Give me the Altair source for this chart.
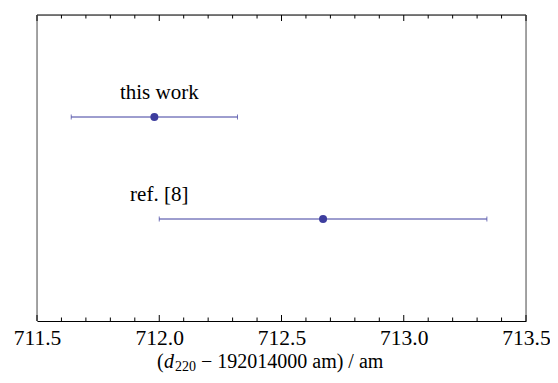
import altair as alt
import pandas as pd

# data
labels = ["this work", "ref. [8]"]
values = [711.98, 712.67]
errors = [0.34, 0.67]
rows = [2, 1]
label_x = [712.0, 712.0]

major_ticks = [711.5, 712.0, 712.5, 713.0, 713.5]
minor_ticks = [711.6, 711.7, 711.8, 711.9, 712.1, 712.2, 712.3, 712.4,
               712.6, 712.7, 712.8, 712.9, 713.1, 713.2, 713.3, 713.4]

df = pd.DataFrame({
    "label": labels,
    "value": values,
    "lo": [v - e for v, e in zip(values, errors)],
    "hi": [v + e for v, e in zip(values, errors)],
    "row": rows,
    "lx": label_x,
})

W, H = 489, 306
FONT = "Liberation Serif, Times New Roman, DejaVu Serif, serif"
COL = "#3d3d9e"

xscale = alt.Scale(domain=[711.5, 713.5], nice=False, zero=False)
yscale = alt.Scale(domain=[0, 3], nice=False, zero=False)

base = alt.Chart(df)

bars = base.mark_rule(color=COL, strokeWidth=1).encode(
    x=alt.X("lo:Q", scale=xscale,
            axis=alt.Axis(values=major_ticks, format=".1f", ticks=False, domain=True,
                          domainColor="black", domainWidth=1.2, grid=False,
                          labelFont=FONT, labelFontSize=21.5, labelColor="black",
                          labelPadding=6, title=None, labelFlush=False)),
    x2="hi:Q",
    y=alt.Y("row:Q", scale=yscale, axis=None),
)
caps_lo = base.mark_tick(color=COL, orient="vertical", size=5, thickness=1).encode(
    x=alt.X("lo:Q", scale=xscale), y=alt.Y("row:Q", scale=yscale))
caps_hi = base.mark_tick(color=COL, orient="vertical", size=5, thickness=1).encode(
    x=alt.X("hi:Q", scale=xscale), y=alt.Y("row:Q", scale=yscale))
points = base.mark_circle(color=COL, size=64, opacity=1).encode(
    x=alt.X("value:Q", scale=xscale), y=alt.Y("row:Q", scale=yscale))
texts = base.mark_text(font=FONT, fontSize=21, color="black", dy=-18,
                       baseline="alphabetic", align="center").encode(
    x=alt.X("lx:Q", scale=xscale), y=alt.Y("row:Q", scale=yscale), text="label:N")

one = alt.Data(values=[{"a": 1}])
frame_top = alt.Chart(one).mark_rule(color="black", strokeWidth=1.2).encode(
    x=alt.value(0), x2=alt.value(W), y=alt.value(0))
frame_left = alt.Chart(one).mark_rule(color="#888888", strokeWidth=1.5).encode(
    x=alt.value(0), y=alt.value(0), y2=alt.value(H))
frame_right = alt.Chart(one).mark_rule(color="#888888", strokeWidth=1.5).encode(
    x=alt.value(W), y=alt.value(0), y2=alt.value(H))

tmaj = pd.DataFrame({"t": major_ticks})
tmin = pd.DataFrame({"t": minor_ticks})
maj_bot = alt.Chart(tmaj).mark_rule(color="black").encode(
    x=alt.X("t:Q", scale=xscale), y=alt.value(H), y2=alt.value(H - 6))
maj_top = alt.Chart(tmaj).mark_rule(color="black").encode(
    x=alt.X("t:Q", scale=xscale), y=alt.value(0), y2=alt.value(6))
min_bot = alt.Chart(tmin).mark_rule(color="black").encode(
    x=alt.X("t:Q", scale=xscale), y=alt.value(H), y2=alt.value(H - 3.5))
min_top = alt.Chart(tmin).mark_rule(color="black").encode(
    x=alt.X("t:Q", scale=xscale), y=alt.value(0), y2=alt.value(3.5))

# composed axis title: (d_220 − 192014000 am) / am
TY = 353
t0 = 120
title_parts = [
    alt.Chart(one).mark_text(text="(", font=FONT, fontSize=20, align="left",
                             baseline="alphabetic", color="black").encode(
        x=alt.value(t0), y=alt.value(TY)),
    alt.Chart(one).mark_text(text="d", font=FONT, fontSize=20, fontStyle="italic",
                             align="left", baseline="alphabetic", color="black").encode(
        x=alt.value(t0 + 7), y=alt.value(TY)),
    alt.Chart(one).mark_text(text="220", font=FONT, fontSize=14, align="left",
                             baseline="alphabetic", color="black").encode(
        x=alt.value(t0 + 18), y=alt.value(TY + 3)),
    alt.Chart(one).mark_text(text="\u2212 192014000 am) / am", font=FONT, fontSize=20,
                             align="left", baseline="alphabetic", color="black").encode(
        x=alt.value(t0 + 44), y=alt.value(TY)),
]

chart = alt.layer(
    bars, caps_lo, caps_hi, points, texts,
    frame_top, frame_left, frame_right,
    maj_bot, maj_top, min_bot, min_top,
    *title_parts,
).properties(
    width=W, height=H,
    autosize=alt.AutoSizeParams(type="none"),
    padding={"left": 29, "top": 7, "right": 24, "bottom": 54},
).configure_view(stroke=None).configure(background="white")

chart.save("out.html", embed_options={"renderer": "svg", "actions": False})
